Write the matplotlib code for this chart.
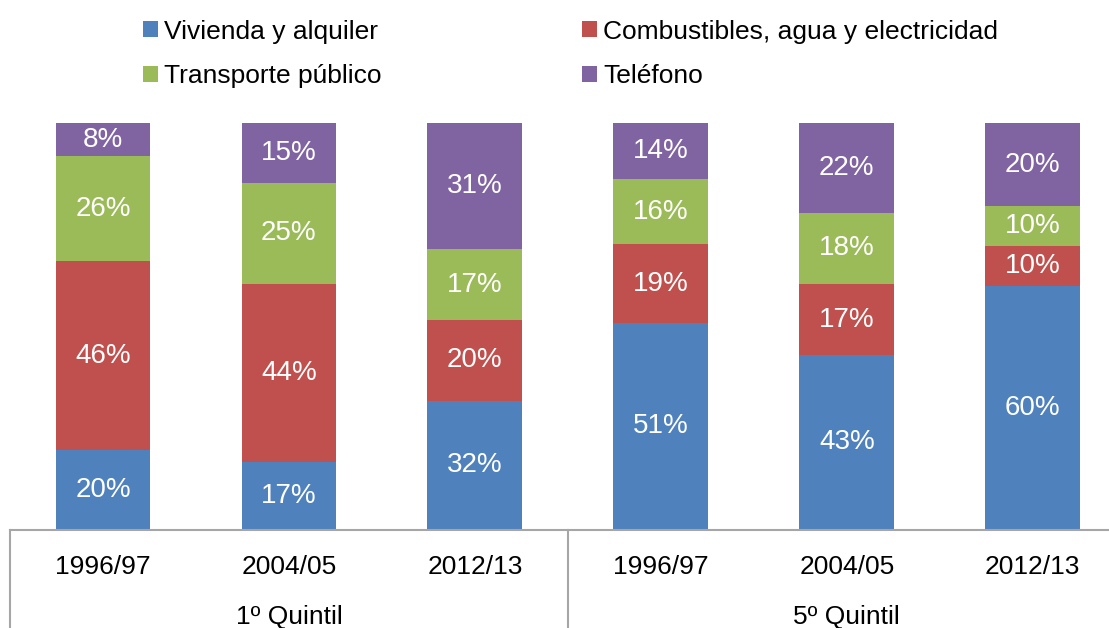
import matplotlib.pyplot as plt
import numpy as np
from matplotlib.transforms import blended_transform_factory

plt.rcParams['font.family'] = ['Liberation Sans', 'DejaVu Sans']

periods = ['1996/97', '2004/05', '2012/13', '1996/97', '2004/05', '2012/13']
groups = ['1º Quintil', '5º Quintil']
series = ['Vivienda y alquiler', 'Combustibles, agua y electricidad',
          'Transporte público', 'Teléfono']

# share of each item (%)
vivienda = [19.7, 16.7, 31.7, 50.9, 43.0, 60.0]
combustibles = [46.4, 43.9, 19.9, 19.3, 17.4, 9.8]
transporte = [25.8, 24.9, 17.4, 16.0, 17.6, 9.7]
telefono = [8.2, 14.7, 31.0, 13.8, 22.0, 20.5]

colors = ['#4F81BD', '#C0504D', '#9BBB59', '#8064A2']

fig = plt.figure(figsize=(11.09, 6.28), dpi=100)
ax = fig.add_axes([10 / 1109, 98 / 628, 1 - 10 / 1109, 407 / 628])

x = np.arange(len(periods))
data = [vivienda, combustibles, transporte, telefono]
totals = np.sum(data, axis=0)
bottom = np.zeros(len(periods))
handles = []
for vals, name, col in zip(data, series, colors):
    share = np.array(vals) / totals * 100
    h = ax.bar(x, share, 0.51, bottom=bottom, color=col, label=name)
    handles.append(h)
    for xi, b, s, v in zip(x, bottom, share, vals):
        ax.text(xi, b + s / 2, f'{v:.0f}%', ha='center', va='center',
                color='white', fontsize=20)
    bottom += share

ax.set_xlim(-0.5, 5.41)
ax.set_ylim(0, 100)
ax.set_yticks([])
ax.set_xticks(x)
ax.set_xticklabels(periods, fontsize=19)
ax.tick_params(axis='x', length=0, pad=18)
for s in ['top', 'right', 'left']:
    ax.spines[s].set_visible(False)
ax.spines['bottom'].set_color('#A6A6A6')
ax.spines['bottom'].set_linewidth(1.5)

# group separators below the axis
tr = blended_transform_factory(ax.transData, ax.transAxes)
for xv in [-0.5, 2.5, 5.5]:
    ax.plot([xv, xv], [0, -0.25], color='#A6A6A6', lw=1.5,
            transform=tr, clip_on=False)
for i, g in enumerate(groups):
    ax.text(3 * i + 1, -0.213, g, ha='center', va='center', fontsize=19,
            transform=tr)

# row-wise legend order
order = [0, 2, 1, 3]
ax.legend([handles[i] for i in order], [series[i] for i in order],
          ncol=2, loc='upper left', bbox_to_anchor=(0.0995, 1.312),
          frameon=False, fontsize=19, handlelength=0.55, handleheight=0.55,
          handletextpad=0.25, columnspacing=7.6, labelspacing=0.78)

fig.savefig('out.png', dpi=100)
